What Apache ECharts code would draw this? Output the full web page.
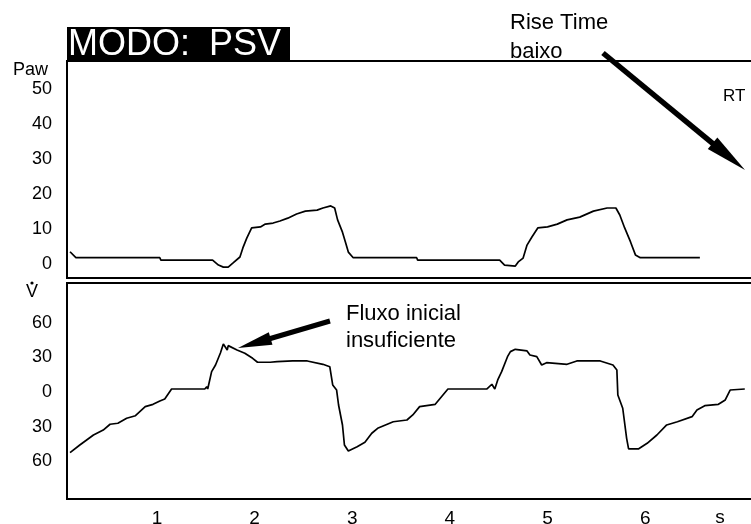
<!DOCTYPE html>
<html>
<head>
<meta charset="utf-8">
<script src="https://cdn.jsdelivr.net/npm/echarts@6/dist/echarts.min.js"></script>
<style>
html,body{margin:0;padding:0;background:#fff;}
#c{width:751px;height:524px;}
</style>
</head>
<body>
<div id="c"></div>
<script>
// ---- data (time in s) ----
const pawTime = [0.11,0.17,1.03,1.04,1.57,1.63,1.68,1.73,1.78,1.85,1.88,1.92,1.97,2.06,2.11,2.19,2.26,2.34,2.43,2.52,2.64,2.70,2.78,2.82,2.85,2.90,2.93,2.96,3.01,3.66,3.67,4.51,4.56,4.67,4.70,4.75,4.79,4.84,4.90,5.00,5.10,5.20,5.33,5.47,5.61,5.70,5.74,5.79,5.85,5.90,5.95,6.56];
const pawValues = [3.5,1.8,1.8,1.1,1.1,-0.3,-0.9,-0.9,0.3,2.0,4.6,7.4,10.3,10.6,11.4,11.7,12.3,13.1,14.3,15.1,15.4,16.0,16.6,16.0,12.6,9.1,6.3,3.4,1.8,1.8,1.1,1.1,-0.3,-0.6,0.6,1.7,5.4,7.7,10.3,10.6,11.4,12.6,13.4,15.1,16.0,16.0,14.0,10.3,6.3,2.6,1.8,1.8];

const flowTime = [0.11,0.21,0.35,0.45,0.52,0.60,0.69,0.78,0.88,0.96,1.03,1.08,1.15,1.49,1.51,1.52,1.56,1.60,1.65,1.68,1.70,1.72,1.73,1.82,1.90,1.98,2.03,2.16,2.23,2.39,2.54,2.70,2.77,2.80,2.84,2.86,2.90,2.92,2.96,3.05,3.13,3.20,3.26,3.42,3.56,3.62,3.69,3.85,3.98,4.38,4.43,4.46,4.49,4.53,4.59,4.62,4.67,4.79,4.82,4.89,4.94,4.99,5.20,5.30,5.54,5.67,5.71,5.72,5.77,5.81,5.83,5.93,6.02,6.12,6.22,6.33,6.48,6.53,6.61,6.75,6.82,6.87,7.02];
const flowValues = [-52.6,-46.0,-37.3,-33.0,-28.0,-27.1,-22.8,-20.6,-12.7,-10.7,-7.8,-6.1,2.6,2.6,4.6,2.6,17.6,23.4,33.8,41.6,40.8,36.4,40.2,36.4,33.6,29.2,25.8,25.8,26.3,26.9,26.9,24.0,21.9,6.1,1.7,-11.3,-28.6,-46.0,-51.2,-47.4,-43.6,-35.8,-31.5,-25.8,-24.3,-19.9,-12.7,-10.7,2.6,2.6,6.7,2.6,10.4,17.6,30.6,35.0,37.0,35.6,32.1,30.6,23.4,25.4,24.0,26.9,26.9,23.4,19.1,-2.6,-14.1,-40.2,-49.4,-49.4,-44.5,-37.3,-28.6,-25.8,-21.4,-15.6,-11.9,-10.7,-6.9,1.7,2.6];

const timeTicks = [1,2,3,4,5,6];
const pawTicks = [0,10,20,30,40,50];
const flowTicks = [-60,-30,0,30,60];

const FONT = '"Liberation Sans", Arial, sans-serif';

function pairs(xs, ys){ return xs.map((x,i)=>[x, ys[i]]); }

// arrow helper (annotation graphics)
function arrow(tail, tip, shaftW, headLen, headHalf){
  const dx = tip[0]-tail[0], dy = tip[1]-tail[1];
  const L = Math.hypot(dx,dy), ux = dx/L, uy = dy/L, px = -uy, py = ux;
  const bx = tip[0]-ux*headLen, by = tip[1]-uy*headLen;
  return [
    {type:'line', shape:{x1:tail[0],y1:tail[1],x2:bx+ux*2,y2:by+uy*2}, style:{stroke:'#000',lineWidth:shaftW}},
    {type:'polygon', shape:{points:[[tip[0],tip[1]],[bx+px*headHalf,by+py*headHalf],[bx-px*headHalf,by-py*headHalf]]}, style:{fill:'#000'}}
  ];
}

const chart = echarts.init(document.getElementById('c'), null, {renderer:'canvas'});
const xMin = 0.079, pxPerSec = 97.65;
const xMax = xMin + (751 + 3 - 67)/pxPerSec;

function txt(t, x, y, size, opts){
  opts = opts || {};
  return {type:'text', x:x, y:y, style:{text:t, fill:opts.fill||'#000', fontSize:size, fontFamily:FONT, verticalAlign:'middle', align:opts.align||'left'}};
}

chart.setOption({
  animation:false,
  backgroundColor:'#fff',
  grid:[
    {left:67, top:61, right:-3, bottom:246, show:true, borderColor:'#000', borderWidth:2, backgroundColor:'transparent', outerBoundsMode:'none', containLabel:false},
    {left:67, top:283, right:-3, bottom:25, show:true, borderColor:'#000', borderWidth:2, backgroundColor:'transparent', outerBoundsMode:'none', containLabel:false}
  ],
  xAxis:[
    {type:'value', gridIndex:0, min:xMin, max:xMax, axisLine:{show:false}, axisTick:{show:false}, splitLine:{show:false}, axisLabel:{show:false}},
    {type:'value', gridIndex:1, min:xMin, max:xMax, axisLine:{show:false}, axisTick:{show:false}, splitLine:{show:false},
     axisLabel:{customValues:timeTicks, color:'#000', fontSize:19, fontFamily:FONT, margin:10}}
  ],
  yAxis:[
    {type:'value', gridIndex:0, min:-4, max:58, axisLine:{show:false}, axisTick:{show:false}, splitLine:{show:false},
     axisLabel:{customValues:pawTicks, color:'#000', fontSize:18, fontFamily:FONT, margin:15}},
    {type:'value', gridIndex:1, min:-92.8, max:94.5, axisLine:{show:false}, axisTick:{show:false}, splitLine:{show:false},
     axisLabel:{customValues:flowTicks, color:'#000', fontSize:18, fontFamily:FONT, margin:15, formatter:v=>String(Math.abs(v))}}
  ],
  series:[
    {type:'line', xAxisIndex:0, yAxisIndex:0, data:pairs(pawTime,pawValues), showSymbol:false, lineStyle:{color:'#000', width:1.7}, z:3},
    {type:'line', xAxisIndex:1, yAxisIndex:1, data:pairs(flowTime,flowValues), showSymbol:false, lineStyle:{color:'#000', width:1.7}, z:3}
  ],
  graphic:[
    {type:'rect', shape:{x:67,y:27,width:223,height:35}, style:{fill:'#000'}},
    txt('MODO:', 68, 45, 36, {fill:'#fff'}),
    txt('PSV', 209, 45, 36, {fill:'#fff'}),
    txt('Paw', 13, 70, 18),
    txt('V', 32, 292, 18, {align:'center'}),
    {type:'circle', shape:{cx:32, cy:283, r:1.6}, style:{fill:'#000'}},
    txt('Rise Time', 510, 23, 22),
    txt('baixo', 510, 52, 22),
    txt('RT', 723, 96, 17),
    txt('Fluxo inicial', 346, 314, 22),
    txt('insuficiente', 346, 341, 22),
    txt('s', 720, 518, 19, {align:'center'}),
    ...arrow([603,53],[745,170],5.5,42,7.5),
    ...arrow([330,321],[238,348],5,34,6.5)
  ]
});
</script>
</body>
</html>
